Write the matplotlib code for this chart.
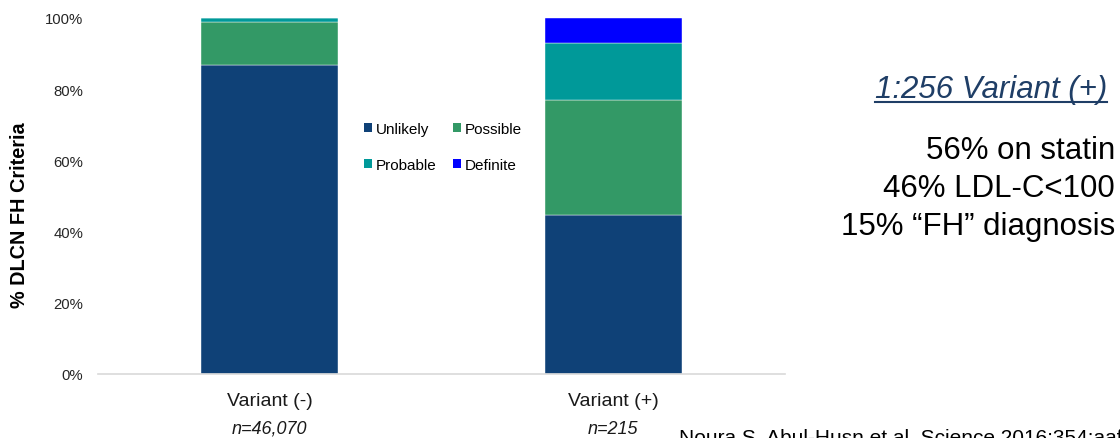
import matplotlib
matplotlib.use("Agg")
import matplotlib.pyplot as plt
from matplotlib.patches import Patch
from matplotlib.lines import Line2D
from matplotlib.ticker import PercentFormatter

plt.rcParams['font.family'] = ['Liberation Sans', 'DejaVu Sans']

# ---- data ----
groups = ["Variant (-)", "Variant (+)"]
group_n = ["n=46,070", "n=215"]
categories = ["Unlikely", "Possible", "Probable", "Definite"]
unlikely = [86.9, 44.7]
possible = [11.9, 32.3]
probable = [1.1, 16.0]
definite = [0.1, 7.0]
series = [unlikely, possible, probable, definite]
colors = ["#0F4177", "#339966", "#009999", "#0000FF"]
yticks = [0, 20, 40, 60, 80, 100]

side_title = "1:256 Variant (+)"
side_lines = ["56% on statin", "46% LDL-C<100", "15% \u201cFH\u201d diagnosis"]
citation = "Noura S. Abul-Husn et al. Science 2016;354:aaf7000"

W, H = 1120, 439
fig = plt.figure(figsize=(W / 100, H / 100), dpi=100)
ax = fig.add_axes([98 / W, (H - 375) / H, 687 / W, 356 / H])

x = list(range(len(groups)))
bottom = [0.0] * len(groups)
for vals, col, lab in zip(series, colors, categories):
    ax.bar(x, vals, width=0.4, bottom=bottom, color=col, label=lab,
           edgecolor="white", linewidth=0.3)
    bottom = [b + v for b, v in zip(bottom, vals)]

ax.set_xlim(-0.5, 1.5)
ax.set_ylim(0, 100)
ax.set_yticks(yticks)
ax.yaxis.set_major_formatter(PercentFormatter(decimals=0))
ax.tick_params(axis='y', length=0, pad=10.8, labelsize=10.7, colors="#262626")
ax.tick_params(axis='x', length=0, labelbottom=False)
for s in ["top", "right", "left"]:
    ax.spines[s].set_visible(False)
ax.spines["bottom"].set_color("#D9D9D9")
ax.spines["bottom"].set_linewidth(1.2)

for i, (g, n) in enumerate(zip(groups, group_n)):
    ax.annotate(g, xy=(i, 0), xycoords=('data', 'axes fraction'),
                xytext=(0, -31), textcoords='offset pixels',
                ha='center', va='baseline', fontsize=14, color="#1a1a1a")
    ax.annotate(n, xy=(i, 0), xycoords=('data', 'axes fraction'),
                xytext=(0, -59), textcoords='offset pixels',
                ha='center', va='baseline', fontsize=13, style='italic',
                color="#1a1a1a")

fig.text(20 / W, (H - 215) / H, "% DLCN FH Criteria", rotation=90,
         ha='center', va='center', fontsize=14.3, fontweight='bold')

# legend laid out row-wise: (Unlikely, Possible) / (Probable, Definite)
order = [0, 2, 1, 3]
handles = [Patch(facecolor=colors[i], edgecolor='none') for i in order]
labels = [categories[i] for i in order]
leg = fig.legend(handles, labels, loc='center',
                 bbox_to_anchor=(443 / W, (H - 148) / H), ncol=2,
                 frameon=False, fontsize=11, handlelength=0.52,
                 handleheight=0.52, handletextpad=0.26, columnspacing=1.07,
                 labelspacing=1.45, borderpad=0)

# right-hand annotations
t = fig.text(1107 / W, (H - 98) / H, side_title, ha='right', va='baseline',
             fontsize=22.5, style='italic', color="#1F3E66")
fig.canvas.draw()
bb = t.get_window_extent(renderer=fig.canvas.get_renderer())
uy = (H - 102.5) / H
fig.add_artist(Line2D([bb.x0 / W, bb.x1 / W], [uy, uy], transform=fig.transFigure,
                      color="#1F3E66", linewidth=1.5))

for k, line in enumerate(side_lines):
    fig.text(1115 / W, (H - (159 + 38 * k)) / H, line, ha='right',
             va='baseline', fontsize=22.5, color="black")

fig.text(679 / W, -5 / H, citation, ha='left', va='baseline', fontsize=15,
         color="black")

fig.savefig("out.png", dpi=100)
